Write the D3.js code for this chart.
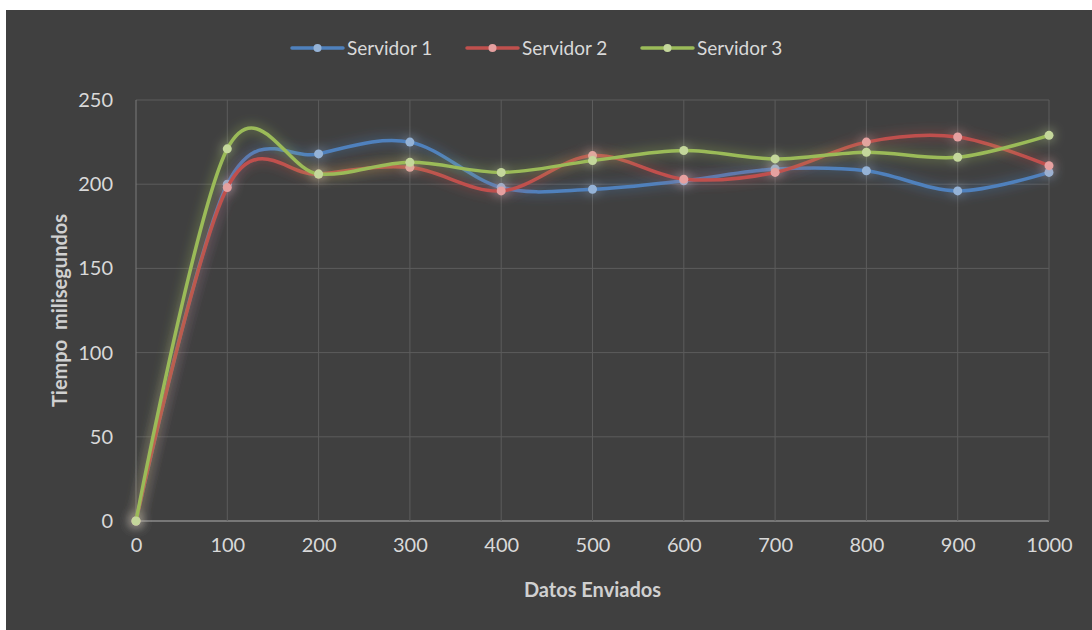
<!DOCTYPE html>
<html>
<head>
<meta charset="utf-8">
<script src="https://cdn.jsdelivr.net/npm/d3@7"></script>
<style>
  body { margin: 0; background: #fff; }
  text { font-family: Lato, "Open Sans", sans-serif; }
</style>
</head>
<body>
<div id="chart"></div>
<script>
// data
const xValues = [0, 100, 200, 300, 400, 500, 600, 700, 800, 900, 1000];
const servidor1 = [0, 200, 218, 225, 198, 197, 202, 209, 208, 196, 207];
const servidor2 = [0, 198, 206, 210, 196, 217, 203, 207, 225, 228, 211];
const servidor3 = [0, 221, 206, 213, 207, 214, 220, 215, 219, 216, 229];
const seriesNames = ["Servidor 1", "Servidor 2", "Servidor 3"];
const yTicks = [0, 50, 100, 150, 200, 250];

const width = 1092, height = 630;
const margin = { left: 136, right: 43, top: 100, bottom: 109 };

const svg = d3.select("#chart").append("svg")
    .attr("width", width)
    .attr("height", height);

// chart background
svg.append("rect")
    .attr("x", 6).attr("y", 10)
    .attr("width", width - 6).attr("height", height - 10)
    .attr("fill", "#404040");

const defs = svg.append("defs");
const glow = defs.append("filter").attr("id", "glow")
    .attr("x", "-20%").attr("y", "-50%").attr("width", "140%").attr("height", "200%");
glow.append("feGaussianBlur").attr("in", "SourceGraphic").attr("stdDeviation", 6).attr("result", "blur");
glow.append("feComponentTransfer").attr("in", "blur").attr("result", "soft")
    .append("feFuncA").attr("type", "linear").attr("slope", 0.8);
const merge = glow.append("feMerge");
merge.append("feMergeNode").attr("in", "soft");
merge.append("feMergeNode").attr("in", "SourceGraphic");

const x = d3.scaleLinear().domain([0, 1000]).range([margin.left, width - margin.right]);
const y = d3.scaleLinear().domain([0, 250]).range([height - margin.bottom, margin.top]);

// grid lines
const grid = svg.append("g");
grid.selectAll(".hg").data(yTicks).enter().append("line")
    .attr("x1", x(0)).attr("x2", x(1000))
    .attr("y1", d => y(d)).attr("y2", d => y(d))
    .attr("stroke", d => d === 0 ? "#8a8a8a" : "#5c5c5c")
    .attr("stroke-width", d => d === 0 ? 1.5 : 1);
grid.selectAll(".vg").data(xValues).enter().append("line")
    .attr("x1", d => x(d)).attr("x2", d => x(d))
    .attr("y1", y(0)).attr("y2", y(250))
    .attr("stroke", d => d === 0 ? "#7a7a7a" : "#5c5c5c")
    .attr("stroke-width", 1);

// axes
const yAxis = svg.append("g")
    .attr("transform", `translate(${x(0) - 23},0)`)
    .call(d3.axisLeft(y).tickValues(yTicks).tickSize(0).tickPadding(0));
yAxis.select(".domain").remove();
yAxis.selectAll("text").attr("fill", "#d9d9d9").style("font-size", "20px")
    .style("font-family", "Lato, sans-serif");

const xAxis = svg.append("g")
    .attr("transform", `translate(0,${y(0) + 17})`)
    .call(d3.axisBottom(x).tickValues(xValues).tickFormat(d3.format("d")).tickSize(0).tickPadding(0));
xAxis.select(".domain").remove();
xAxis.selectAll("text").attr("fill", "#d9d9d9").style("font-size", "20px")
    .style("font-family", "Lato, sans-serif");

// axis titles
svg.append("text")
    .attr("x", (x(0) + x(1000)) / 2).attr("y", 597)
    .attr("text-anchor", "middle")
    .attr("fill", "#d0d0d0")
    .style("font-size", "20px").style("font-weight", "bold")
    .text("Datos Enviados");
svg.append("text")
    .attr("transform", `translate(67,${(y(0) + y(250)) / 2}) rotate(-90)`)
    .attr("text-anchor", "middle")
    .attr("fill", "#d0d0d0")
    .style("font-size", "20px").style("font-weight", "bold")
    .style("white-space", "pre")
    .attr("xml:space", "preserve")
    .text("Tiempo  milisegundos");

// series
const colors = ["#4f81bd", "#c0504d", "#9bbb59"];
const dotColors = ["#95b3d7", "#e6a0a0", "#c4d79b"];
const allSeries = [servidor1, servidor2, servidor3];

const line = d3.line()
    .x((d, i) => x(xValues[i]))
    .y(d => y(d))
    .curve(d3.curveCatmullRom.alpha(0));

allSeries.forEach((values, s) => {
    const g = svg.append("g").attr("filter", "url(#glow)");
    g.append("path")
        .datum(values)
        .attr("d", line)
        .attr("fill", "none")
        .attr("stroke", colors[s])
        .attr("stroke-width", 3.5)
        .attr("stroke-linecap", "round");
    g.selectAll("circle")
        .data(values)
        .enter()
        .append("circle")
        .attr("cx", (d, i) => x(xValues[i]))
        .attr("cy", d => y(d))
        .attr("r", 4.5)
        .attr("fill", dotColors[s]);
});

// legend
const legendX = [292, 467, 642];
const legend = svg.append("g");
seriesNames.forEach((name, i) => {
    const lg = legend.append("g").attr("transform", `translate(${legendX[i]},48)`);
    lg.append("line")
        .attr("x1", 0).attr("x2", 51)
        .attr("stroke", colors[i]).attr("stroke-width", 3.5)
        .attr("stroke-linecap", "round");
    lg.append("circle").attr("cx", 25.5).attr("r", 4).attr("fill", dotColors[i]);
    lg.append("text")
        .attr("x", 55).attr("y", 7)
        .attr("fill", "#d9d9d9")
        .style("font-size", "19px")
        .text(name);
});
</script>
</body>
</html>
